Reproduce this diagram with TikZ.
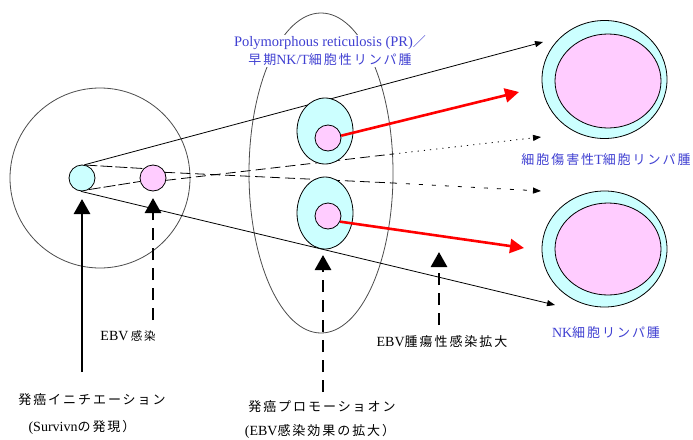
\documentclass[tikz,border=0pt]{standalone}
\usepackage{fontspec}
\setmainfont{Liberation Serif}
\newfontfamily\jp[LetterSpace=15]{Noto Sans CJK JP}
\usetikzlibrary{shapes.geometric,arrows.meta}
\definecolor{cellcyan}{RGB}{204,255,255}
\definecolor{cellpink}{RGB}{255,204,255}
\definecolor{labelblue}{RGB}{64,64,210}
\newcommand\J[1]{{\fontsize{13}{16}\jp #1}}
\begin{document}
\begin{tikzpicture}[x=1pt,y=-1pt,
  thinline/.style={draw=black, line width=0.8pt},
  cyancell/.style={circle, draw, line width=0.8pt, fill=cellcyan, inner sep=0pt, minimum size=26pt},
  pinkcell/.style={circle, draw, line width=0.8pt, fill=cellpink, inner sep=0pt, minimum size=26pt},
  oval/.style={ellipse, draw, line width=0.8pt, inner sep=0pt},
  smalltip/.style={-{Triangle[length=8pt,width=6pt]}},
  redarrow/.style={draw=red, line width=2.6pt, -{Triangle[length=14pt,width=14pt]}},
  uparrow/.style={draw=black, line width=2.8pt, -{Triangle[length=15pt,width=16pt]}},
  updashed/.style={uparrow, dash pattern=on 12pt off 8pt},
  blacklabel/.style={font=\fontsize{14}{16}\selectfont, inner sep=1pt},
  bluelabel/.style={font=\fontsize{14}{18}\selectfont, text=labelblue, inner sep=1pt}
]
\useasboundingbox (0,0) rectangle (693,439);
\fill[white] (0,0) rectangle (693,439);

% large left circle
\node[circle, draw=black!70, line width=0.8pt, inner sep=0pt, minimum size=180pt] (big) at (100,178) {};
% middle ellipse
\node[ellipse, draw=black!70, line width=0.8pt, inner sep=0pt, minimum width=144pt, minimum height=320pt] (mid) at (321,173) {};
% top blue label (covers ellipse top)
\node[bluelabel, fill=white, align=center] (prlabel) at (330,51)
  {{\fontsize{14.5}{18}\selectfont Polymorphous reticulosis (PR)}\J{／}\\ \J{早期}NK/T\J{細胞性リンパ腫}};

% small cells left
\node[cyancell] (c1) at (82,178) {};
\node[pinkcell] (p1) at (153,178) {};

% tip coordinates
\coordinate (tipA) at (543,42);
\coordinate (tipB) at (541,137);
\coordinate (tipC) at (541,191);
\coordinate (tipD) at (555,305);
\coordinate (m1) at (393,183);
\coordinate (m2) at (393,154);

% long black lines
\draw[thinline, smalltip] (c1.80) -- (tipA);
\draw[thinline, smalltip] (c1.-95) -- (tipD);

% dashed lines cyan -> pink
\draw[thinline, dash pattern=on 12pt off 3pt] (c1.75) -- (p1.135);
\draw[thinline, dash pattern=on 12pt off 3pt] (c1.-60) -- (p1.-165);

% dashed continuation (crossing)
\draw[thinline, dash pattern=on 10pt off 5pt] (p1.25) -- (m1);
\draw[thinline, dash pattern=on 4pt off 9pt, smalltip] (m1) -- (tipC);
\draw[thinline, dash pattern=on 10pt off 5pt] (p1.-10) -- (m2);
\draw[thinline, dash pattern=on 1.2pt off 5pt, smalltip] (m2) -- (tipB);

% middle cells
\node[oval, fill=cellcyan, minimum width=56pt, minimum height=66pt] (mc1) at (325,131) {};
\node[pinkcell] (mp1) at (328,138) {};
\node[oval, fill=cellcyan, minimum width=56pt, minimum height=72pt] (mc2) at (325,213) {};
\node[pinkcell] (mp2) at (328,216) {};

% right large cells
\node[oval, fill=cellcyan, minimum width=125pt, minimum height=118pt] (rc1) at (604.5,79.5) {};
\node[oval, fill=cellpink, minimum width=106pt, minimum height=94pt] (rp1) at (608,81) {};
\node[oval, fill=cellcyan, minimum width=125pt, minimum height=116pt] (rc2) at (604.5,249) {};
\node[oval, fill=cellpink, minimum width=106pt, minimum height=92pt] (rp2) at (608,249) {};

% red arrows
\coordinate (redA) at (519,92);
\coordinate (redB) at (524,248);
\draw[redarrow] (mp1.10) -- (redA);
\draw[redarrow] (mp2.-25) -- (redB);

% labels
\node[bluelabel] (ctl) at (606,160) {\J{細胞傷害性}T\J{細胞リンパ腫}};
\node[bluelabel] (nkl) at (606,333) {NK\J{細胞リンパ腫}};
\node[blacklabel] (ebv) at (128,336) {EBV\,{\fontsize{11.5}{14}\jp 感染}};
\node[blacklabel] (ebvt) at (442,342) {EBV\J{腫瘍性感染拡大}};
\node[blacklabel] (init) at (92,400) {\J{発癌イニチエーション}};
\node[blacklabel] (surv) at (82,427) {(Survivn\J{の発現）}};
\node[blacklabel] (prom) at (322,407) {\J{発癌プロモーショオン}};
\node[blacklabel] (ext) at (320,431) {(EBV\J{感染効果の拡大）}};

% vertical arrows
\coordinate (a1s) at (82,372);
\coordinate (a1e) at (82,199);
\coordinate (a2s) at (153,320);
\coordinate (a2e) at (153,198);
\coordinate (a3s) at (323,392);
\coordinate (a3e) at (323,255);
\coordinate (a4s) at (439,325);
\coordinate (a4e) at (439,252);
\draw[uparrow] (a1s) -- (a1e);
\draw[updashed] (a2s) -- (a2e);
\draw[updashed] (a3s) -- (a3e);
\draw[updashed] (a4s) -- (a4e);
\end{tikzpicture}
\end{document}
